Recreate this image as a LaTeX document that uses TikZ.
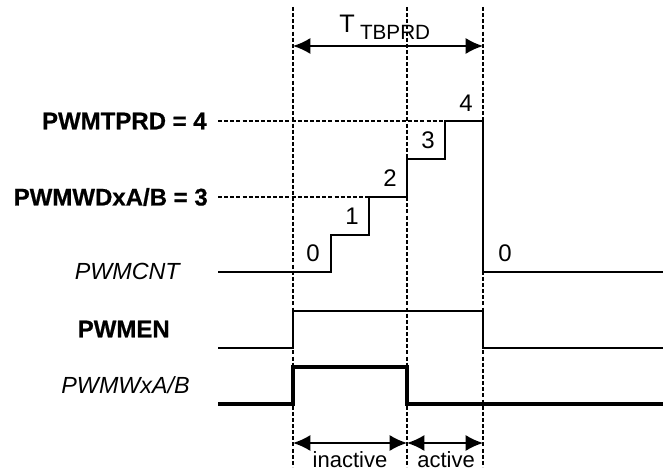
\documentclass[tikz,border=0pt]{standalone}
\usepackage{fontspec}
\setmainfont{Liberation Sans}
\newfontfamily\heavyfont{Liberation Sans Bold}[FakeBold=0.7]
\usetikzlibrary{arrows.meta}

\begin{document}
\begin{tikzpicture}[>={Latex[length=13pt,width=12pt]}, x=0.75pt, y=-0.75pt,
    guide/.style={line width=0.95pt, dash pattern=on 3pt off 1.6pt},
    sig/.style={line width=1.5pt},
    thicksig/.style={line width=2.3pt},
    dim/.style={<->, line width=1.3pt},
    boldlbl/.style={anchor=east, inner sep=0pt, font=\fontsize{18}{20}\heavyfont},
    itlbl/.style={anchor=east, inner sep=0pt, font=\fontsize{17.5}{20}\selectfont\itshape},
    cnt/.style={inner sep=0pt, font=\fontsize{18}{20}\selectfont},
    span/.style={anchor=base, inner sep=0pt, font=\fontsize{16.5}{18}\selectfont}]

    \useasboundingbox (0,0) rectangle (663,473);

    % time marks
    \draw[guide] (293,7) -- (293,467);
    \draw[guide] (407,7) -- (407,467);
    \draw[guide] (483,7) -- (483,467);

    % period
    \coordinate (pl) at (293,46);
    \coordinate (pr) at (483,46);
    \draw[dim] (pl) -- (pr);
    \node[anchor=base west, inner sep=0pt, font=\fontsize{19}{20}\selectfont] (period) at (339,33)
        {T\hspace{4pt}\raisebox{-5.25pt}{\fontsize{15.5}{16}\selectfont TBPRD}};

    % compare levels
    \draw[guide] (218,121) -- (483,121);
    \draw[guide] (218,197) -- (407,197);
    \node[boldlbl] (tprd) at (207,121) {PWMTPRD = 4};
    \node[boldlbl] (wdab) at (208,197) {PWMWDxA/B = 3};

    % counter
    \draw[sig] (218,272) -| (331,235) -| (369,197) -| (407,159) -| (445,121) -| (483,272) -- (663,272);
    \node[itlbl] (cntlbl) at (180,271) {PWMCNT};
    \node[cnt] (c0) at (313,253) {0};
    \node[cnt] (c1) at (352,216) {1};
    \node[cnt] (c2) at (390,178) {2};
    \node[cnt] (c3) at (428,140) {3};
    \node[cnt] (c4) at (466,103) {4};
    \node[cnt] (c5) at (505,253) {0};

    % enable
    \draw[sig] (218,348) -| (293,311) -| (483,348) -- (663,348);
    \node[boldlbl] (enlbl) at (170,329) {PWMEN};

    % output
    \draw[thicksig] (218,404) -| (293,367) -| (407,404) -- (663,404);
    \node[itlbl] (outlbl) at (190,385) {PWMWxA/B};

    % inactive / active
    \coordinate (il) at (293,443);
    \coordinate (im) at (407,443);
    \coordinate (ir) at (483,443);
    \draw[dim] (il) -- (im);
    \draw[dim] (im) -- (ir);
    \node[span] (inact) at (350,467) {inactive};
    \node[span] (act) at (446,467) {active};

\end{tikzpicture}
\end{document}
